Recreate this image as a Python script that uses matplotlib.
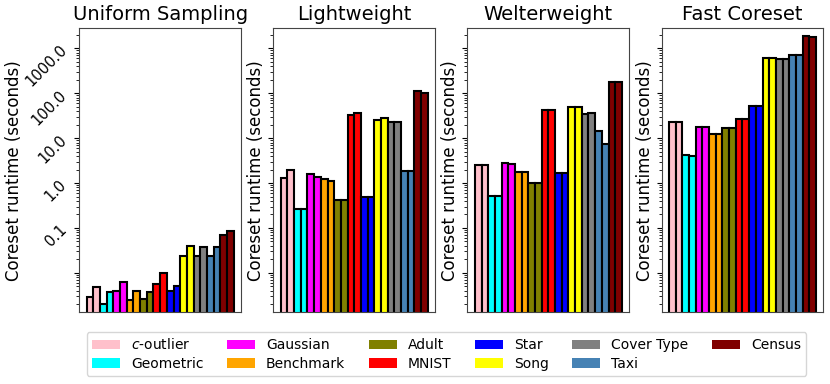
import matplotlib
matplotlib.use('Agg')
from matplotlib import pyplot as plt
from matplotlib.patches import Patch
import numpy as np

datasets = ['$c$-outlier', 'Geometric', 'Gaussian', 'Benchmark', 'Adult', 'MNIST',
            'Star', 'Song', 'Cover Type', 'Taxi', 'Census']
colors = ['pink', 'cyan', 'magenta', 'orange', 'olive', 'red',
          'blue', 'yellow', 'gray', 'steelblue', 'maroon']
titles = ['Uniform Sampling', 'Lightweight', 'Welterweight', 'Fast Coreset']

# two runs per dataset, seconds
uniform = [0.0029, 0.0048, 0.0020, 0.0038, 0.0040, 0.0064, 0.0025, 0.0040,
           0.0026, 0.0038, 0.0057, 0.0101, 0.0040, 0.0051, 0.0238, 0.0397,
           0.0234, 0.0378, 0.0242, 0.0371, 0.0698, 0.0857]
lightweight = [1.28, 1.99, 0.265, 0.265, 1.62, 1.39, 1.26, 1.13,
               0.42, 0.42, 32.3, 35.8, 0.48, 0.48, 25.9, 28.7,
               23.0, 22.6, 1.89, 1.89, 112, 100]
welterweight = [2.58, 2.58, 0.525, 0.525, 2.76, 2.71, 1.80, 1.80,
                0.99, 1.02, 41.8, 41.8, 1.65, 1.71, 48.7, 49.5,
                35.2, 35.8, 14.2, 7.3, 181, 181]
fast_coreset = [23.0, 23.0, 4.15, 3.94, 18.1, 18.1, 12.4, 12.4,
                17.2, 17.2, 27.2, 27.2, 53.1, 53.1, 622, 622,
                581, 581, 725, 701, 1924, 1825]

all_runs = [uniform, lightweight, welterweight, fast_coreset]
bar_colors = [c for c in colors for _ in range(2)]

fig, axes = plt.subplots(1, 4, figsize=(8.3, 3.84), dpi=100, sharey=True)
fig.subplots_adjust(left=0.0955, right=0.992, top=0.926, bottom=0.187, wspace=0.2)

for i, (ax, title, runs) in enumerate(zip(axes, titles, all_runs)):
    x = np.arange(len(runs))
    ax.bar(x, runs, width=1, color=bar_colors, edgecolor='black', linewidth=1.5)
    ax.set_yscale('log')
    ax.set_title(title, fontsize=14)
    ax.set_ylabel('Coreset runtime (seconds)', fontsize=12)
    ax.yaxis.set_label_coords(-0.347 if i == 0 else -0.05, 0.5)
    ax.set_xticks([])
    ax.set_ylim(0.00133, 2786)
    for s in ax.spines.values():
        s.set_color('#444444')

axes[0].set_yticks([0.01, 0.1, 1, 10, 100, 1000])
axes[0].set_yticklabels(['', '0.1', '1.0', '10.0', '100.0', '1000.0'],
                        rotation=45, fontsize=10.5)
for ax in axes[1:]:
    ax.tick_params(labelleft=False)

handles = [Patch(facecolor=c, label=d) for c, d in zip(colors, datasets)]
fig.legend(handles=handles, loc='center', bbox_to_anchor=(0.538, 0.078),
           ncol=6, fontsize=10, handlelength=2.0, columnspacing=1.7,
           labelspacing=0.3)

plt.savefig('out.png')
